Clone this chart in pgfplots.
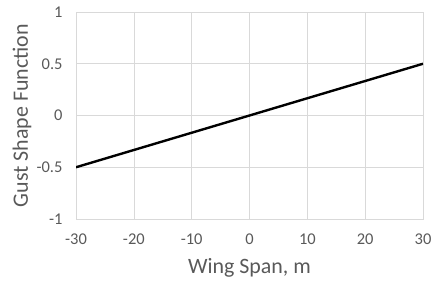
\documentclass[border=0pt]{standalone}
\usepackage{pgfplots}
\pgfplotsset{compat=1.18}
\usepackage{fontspec}
\setmainfont{Carlito}
\definecolor{tickgray}{HTML}{595959}
\definecolor{gridgray}{HTML}{D9D9D9}
\begin{document}
\begin{tikzpicture}
\begin{axis}[
  scale only axis,
  width=347bp, height=207bp,
  xmin=-30, xmax=30, ymin=-1, ymax=1,
  xtick={-30,-20,...,30},
  ytick={-1,-0.5,0,0.5,1},
  yticklabels={-1,-0.5,0,0.5,1},
  xticklabels={-30,-20,-10,0,10,20,30},
  grid=major,
  major grid style={gridgray, line width=0.6pt},
  axis line style={gridgray, line width=0.6pt},
  major tick length=0pt,
  tick style={draw=none},
  ticklabel style={font=\fontsize{16.5}{18}\selectfont, text=tickgray},
  xticklabel style={yshift=-11bp},
  yticklabel style={xshift=-10bp},
  xlabel={Wing Span, m},
  ylabel={Gust Shape Function},
  label style={font=\fontsize{22}{24}\selectfont, text=tickgray},
  xlabel style={at={(axis description cs:0.5,-0.2367)}, anchor=center},
  ylabel style={at={(axis description cs:-0.1556,0.5)}, anchor=center},
]
\addplot[black, line width=2.4pt] coordinates {(-30,-0.5) (30,0.5)};
\end{axis}
\pgfresetboundingbox
\path (current axis.south west) ++(-76bp,-63bp) coordinate (bl);
\path (current axis.north east) ++(8bp,12bp) coordinate (tr);
\useasboundingbox (bl) rectangle (tr);
\end{tikzpicture}
\end{document}
